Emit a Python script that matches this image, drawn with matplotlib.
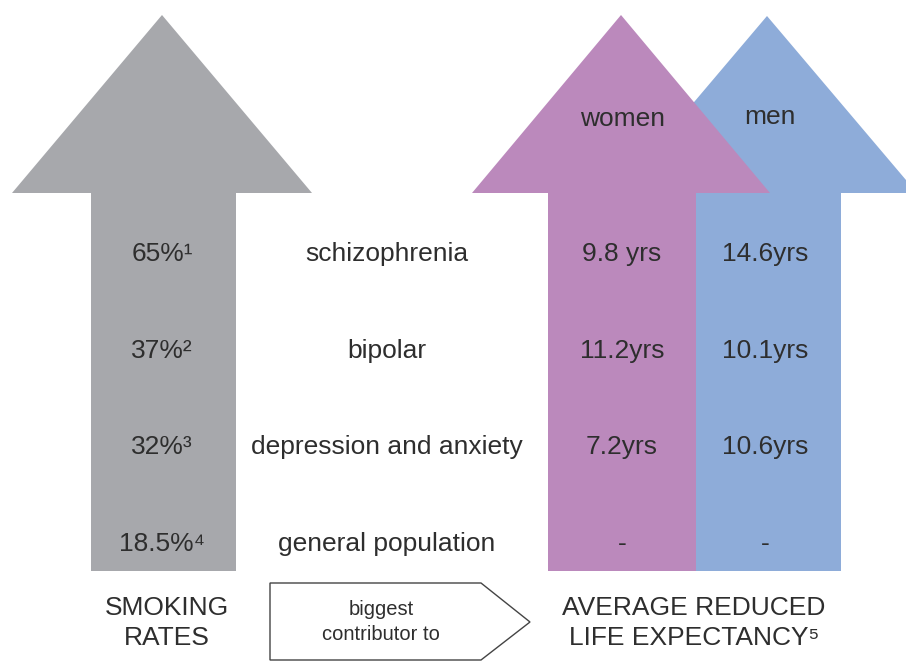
import matplotlib
matplotlib.use("Agg")
import matplotlib.pyplot as plt
from matplotlib.patches import Polygon

# ---- data ----
conditions = ["schizophrenia", "bipolar", "depression and anxiety", "general population"]
smoking_rates = ["65%", "37%", "32%", "18.5%"]
smoking_refs = ["\u00b9", "\u00b2", "\u00b3", "\u2074"]
women_years = ["9.8 yrs", "11.2yrs", "7.2yrs", "-"]
men_years = ["14.6yrs", "10.1yrs", "10.6yrs", "-"]
row_y = [254, 351, 447, 544]

GRAY = "#a7a8ac"
PINK = "#bb89bc"
BLUE = "#8eacd9"
TXT = "#2e2e2e"
FAM = ["Liberation Sans", "DejaVu Sans"]

fig = plt.figure(figsize=(9.06, 6.62), dpi=100)
ax = fig.add_axes([0, 0, 1, 1])
ax.set_xlim(0, 906)
ax.set_ylim(662, 0)
ax.axis("off")


def up_arrow(cx, tip_y, head_half, head_base_y, shaft_l, shaft_r, bottom, color, z):
    pts = [(cx, tip_y), (cx + head_half, head_base_y), (shaft_r, head_base_y),
           (shaft_r, bottom), (shaft_l, bottom), (shaft_l, head_base_y),
           (cx - head_half, head_base_y)]
    ax.add_patch(Polygon(pts, closed=True, facecolor=color, edgecolor="none", zorder=z))


up_arrow(162, 15, 150, 193, 91, 236, 571, GRAY, 1)
up_arrow(767, 16, 150, 193, 696, 841, 571, BLUE, 1)
up_arrow(621, 15, 149, 193, 548, 696, 571, PINK, 2)

fs = 19
ax.text(623, 119, "women", ha="center", va="center", fontsize=fs, color=TXT, family=FAM, zorder=5)
ax.text(770, 117, "men", ha="center", va="center", fontsize=fs, color=TXT, family=FAM, zorder=5)

for y, cond, rate, ref, w, m in zip(row_y, conditions, smoking_rates, smoking_refs, women_years, men_years):
    ax.text(162, y, rate + ref, ha="center", va="center", fontsize=fs, color=TXT, family=FAM, zorder=5)
    ax.text(387, y, cond, ha="center", va="center", fontsize=fs, color=TXT, family=FAM, zorder=5)
    ax.text(622, y, w, ha="center", va="center", fontsize=fs, color=TXT, family=FAM, zorder=5)
    ax.text(765, y, m, ha="center", va="center", fontsize=fs, color=TXT, family=FAM, zorder=5)

# bottom labels
ax.text(167, 623, "SMOKING\nRATES", ha="center", va="center", fontsize=19, color=TXT,
        family=FAM, linespacing=1.32)
ax.text(694, 623, "AVERAGE REDUCED\nLIFE EXPECTANCY\u2075", ha="center", va="center",
        fontsize=19, color=TXT, family=FAM, linespacing=1.32)

# pentagon arrow
pent = [(270, 583), (481, 583), (530, 622), (481, 660), (270, 660)]
ax.add_patch(Polygon(pent, closed=True, facecolor="white", edgecolor="#444444", linewidth=1.0))
ax.text(381, 622, "biggest\ncontributor to", ha="center", va="center", fontsize=14.5,
        color=TXT, family=FAM, linespacing=1.35)

fig.savefig("out.png", dpi=100)
